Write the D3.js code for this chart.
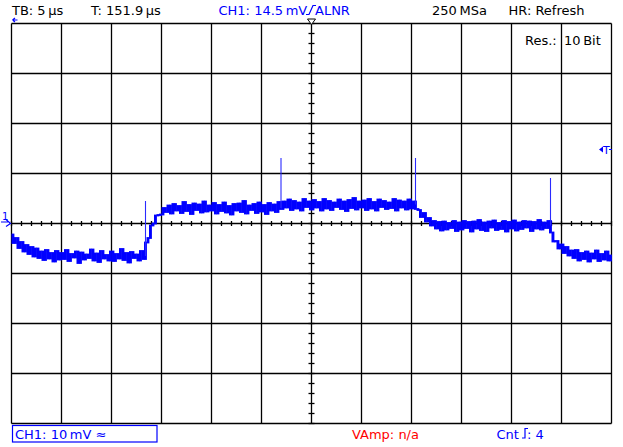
<!DOCTYPE html>
<html>
<head>
<meta charset="utf-8">
<script src="https://cdn.jsdelivr.net/npm/d3@7"></script>
<style>
  html, body { margin: 0; padding: 0; background: #fff; }
  text { font-family: "DejaVu Sans", sans-serif; font-size: 13px; }
</style>
</head>
<body>
<div id="scope"></div>
<script>
// --- Datos de la captura (CH1, 10 mV/div, 5 µs/div) ---
const timeStart = -30;      // µs, borde izquierdo
const timeStep = 0.25;      // µs entre muestras
// Muestras de la traza en mV, una fila por división (20 muestras = 5 µs)
const traceMv = [
  -2.2,-3.9,-2.9,-4.9,-3.7,-5.6,-4.3,-6.1,-4.7,-6.6,-5.0,-6.9,-5.6,-7.3,-5.3,-7.0,-5.9,-7.6,-5.5,-7.2,
  -5.9,-7.1,-5.3,-7.5,-6.1,-6.8,-5.6,-7.9,-5.8,-7.2,-6.2,-6.9,-5.2,-7.4,-6.0,-7.7,-5.5,-7.0,-6.3,-7.4,
  -5.6,-7.5,-6.1,-7.0,-5.1,-7.3,-5.9,-7.8,-5.7,-6.9,-6.2,-7.4,-5.5,-7.1,-3.8,-2.9,-0.4, 0.0, 1.6, 1.7,
   1.8, 3.1, 2.3, 3.6, 2.0, 3.9, 2.6, 3.5, 2.1, 4.3, 2.5, 3.7, 1.9, 4.0, 2.7, 3.8, 2.2, 4.4, 2.4, 3.6,
   2.6, 4.1, 2.0, 3.7, 2.5, 4.2, 2.2, 3.5, 1.8, 3.9, 2.6, 4.0, 2.3, 4.5, 2.0, 3.6, 2.7, 3.9, 2.1, 4.2,
   2.4, 3.7, 1.9, 4.1, 2.6, 3.8, 2.3, 4.3, 2.9, 4.4, 3.2, 4.8, 2.7, 4.5, 3.0, 4.2, 2.6, 4.9, 3.3, 4.4,
   2.8, 4.7, 3.2, 4.3, 2.6, 4.9, 3.0, 4.5, 2.7, 4.2, 3.3, 4.8, 2.9, 4.4, 2.5, 4.7, 3.1, 5.1, 2.8, 4.4,
   3.2, 4.6, 2.7, 4.9, 3.0, 4.3, 2.6, 4.8, 3.3, 4.5, 2.9, 4.2, 3.1, 4.9, 2.6, 4.6, 3.2, 4.4, 2.8, 4.8,
   3.0, 4.4, 2.9, 2.7, 1.3, 2.1, 0.4, 1.1,-0.4, 0.5,-1.0, 0.3,-1.4, 0.4,-1.2, 0.1,-0.9, 0.5,-1.5, 0.2,
  -1.2, 0.5,-0.9, 0.3,-1.6, 0.4,-1.0, 0.7,-1.3, 0.2,-1.5, 0.4,-0.8, 0.6,-1.3, 0.1,-1.1, 0.5,-1.6, 0.3,
  -1.0, 0.6,-1.4, 0.2,-1.1, 0.5,-0.8, 0.4,-1.5, 0.3,-1.0, 0.7,-1.2, 0.2,-0.9, 0.5,-1.8,-3.6,-3.5,-5.0,
  -4.2,-5.9,-4.7,-6.4,-5.4,-6.9,-5.3,-7.4,-5.9,-7.1,-5.6,-7.6,-6.0,-7.0,-5.4,-7.5,-6.1,-7.2,-5.6,-7.4,
  -6.4
];
// Picos de conmutación: tiempo (µs), base y cima (mV)
const spikeTimes = [-16.6, -3.05, 10.4, 23.9];
const spikeBaseMv = [-6.5, 3.1, 3.8, -0.4];
const spikePeakMv = [4.5, 13.1, 13.1, 9.1];
const triggerLevelMv = 14.8;
// Textos de la pantalla
const headerLabels = ["TB: 5\u2009\u00b5s", "T: 151.9\u2009\u00b5s", "CH1: 14.5\u2009mV", "ALNR", "250\u2009MSa", "HR: Refresh"];
const footerLabels = ["CH1: 10\u2009mV \u2248", "VAmp: n/a", "Cnt", ": 4"];

const width = 623, height = 447;
const blue = "#0000ff";

const svg = d3.select("#scope").append("svg")
  .attr("width", width).attr("height", height);

const x = d3.scaleLinear().domain([-30, 30]).range([11.5, 611.5]);
const y = d3.scaleLinear().domain([-40, 40]).range([423.5, 23.5]);

// --- Retícula ---
const grid = svg.append("g").attr("stroke", "#000").attr("stroke-width", 1.3);
grid.selectAll("line.v").data(d3.range(-30, 30.01, 5)).join("line")
  .attr("x1", d => x(d)).attr("x2", d => x(d))
  .attr("y1", y(40)).attr("y2", y(-40));
grid.selectAll("line.h").data(d3.range(-40, 40.01, 10)).join("line")
  .attr("class", "h")
  .attr("x1", x(-30)).attr("x2", x(30))
  .attr("y1", d => y(d)).attr("y2", d => y(d));

// marcas menores sobre los ejes centrales
grid.selectAll("line.tx").data(d3.range(-30, 30.01, 1)).join("line")
  .attr("class", "tx")
  .attr("x1", d => x(d)).attr("x2", d => x(d))
  .attr("y1", y(0) - 2.5).attr("y2", y(0) + 2.5);
grid.selectAll("line.ty").data(d3.range(-40, 40.01, 2)).join("line")
  .attr("class", "ty")
  .attr("x1", x(0) - 3).attr("x2", x(0) + 3)
  .attr("y1", d => y(d)).attr("y2", d => y(d));

// --- Traza ---
// cada par de muestras consecutivas se pinta como una barra vertical entre sus valores,
// así la traza ruidosa queda como una banda llena con bordes irregulares
const stepPx = x(timeStart + timeStep) - x(timeStart);
const bars = d3.pairs(traceMv).map(([a, b], i) => ({ t: timeStart + i * timeStep, lo: Math.min(a, b), hi: Math.max(a, b) }));

svg.append("g").selectAll("rect").data(bars).join("rect")
  .attr("x", d => x(d.t))
  .attr("width", stepPx + 0.4)
  .attr("y", d => y(d.hi) - 0.9)
  .attr("height", d => y(d.lo) - y(d.hi) + 1.8)
  .attr("fill", blue);

svg.append("g").selectAll("line").data(spikeTimes).join("line")
  .attr("x1", d => x(d)).attr("x2", d => x(d))
  .attr("y1", (d, i) => y(spikeBaseMv[i])).attr("y2", (d, i) => y(spikePeakMv[i]))
  .attr("stroke", "#2a2aff").attr("stroke-width", 1.1);

// --- Marcadores ---
// posición de disparo (triángulo arriba)
svg.append("path")
  .attr("d", `M${x(0) - 4},19 L${x(0) + 4},19 L${x(0)},24.5 Z`)
  .attr("fill", "#fff").attr("stroke", "#000").attr("stroke-width", 1);
// flecha superior izquierda
svg.append("path")
  .attr("d", "M12.5,20 L17.5,20 M12.5,20 L15,18 M12.5,20 L15,22")
  .attr("stroke", blue).attr("stroke-width", 1.2).attr("fill", "none");
// referencia de canal 1
svg.append("text").attr("x", 2).attr("y", 220).attr("fill", blue)
  .style("font-size", "10px").text("1");
svg.append("path")
  .attr("d", `M1,${y(0) - 1.5} L8,${y(0) - 1.5} M6,${y(0) - 4} L10.5,${y(0)} L6,${y(0) + 3}`)
  .attr("stroke", blue).attr("stroke-width", 1.2).attr("fill", "none");
// nivel de disparo a la derecha
const ty = y(triggerLevelMv);
svg.append("path")
  .attr("d", `M599,${ty} L603,${ty - 3} L603,${ty + 3} Z`)
  .attr("fill", blue);
svg.append("text").attr("x", 603).attr("y", ty + 4).attr("fill", blue)
  .style("font-size", "11px").text("T");
svg.append("line").attr("x1", 609).attr("x2", 612).attr("y1", ty).attr("y2", ty)
  .attr("stroke", blue).attr("stroke-width", 1);

// --- Cabecera ---
const head = svg.append("g");
head.append("text").attr("x", 12).attr("y", 15).text(headerLabels[0]);
head.append("text").attr("x", 91).attr("y", 15).text(headerLabels[1]);
head.append("text").attr("x", 218.5).attr("y", 15).attr("fill", blue).text(headerLabels[2]);
// símbolo de flanco ascendente inclinado
head.append("path")
  .attr("d", "M306,14.5 L309,14.5 L313,5.5 L316,5.5")
  .attr("stroke", blue).attr("stroke-width", 1.2).attr("fill", "none");
head.append("text").attr("x", 315).attr("y", 15).attr("fill", blue).text(headerLabels[3]);
head.append("text").attr("x", 432).attr("y", 15).text(headerLabels[4]);
head.append("text").attr("x", 508.5).attr("y", 15).text(headerLabels[5]);
head.append("text").attr("x", 525).attr("y", 44.5).text("Res.:");
head.append("text").attr("x", 564).attr("y", 44.5).text("10\u2009Bit");

// --- Pie ---
const foot = svg.append("g");
foot.append("rect").attr("x", 12.5).attr("y", 425.5).attr("width", 144.5).attr("height", 16.5)
  .attr("fill", "none").attr("stroke", blue).attr("stroke-width", 1.2);
foot.append("text").attr("x", 15).attr("y", 438.5).attr("fill", blue).text(footerLabels[0]);
foot.append("text").attr("x", 352).attr("y", 438.5).attr("fill", "#ff0000").text(footerLabels[1]);
foot.append("text").attr("x", 496.5).attr("y", 438.5).attr("fill", blue).text(footerLabels[2]);
foot.append("path")
  .attr("d", "M522,438 L525,438 L525,428.5 L528,428.5")
  .attr("stroke", blue).attr("stroke-width", 1.2).attr("fill", "none");
foot.append("text").attr("x", 527).attr("y", 438.5).attr("fill", blue).text(footerLabels[3]);
</script>
</body>
</html>
